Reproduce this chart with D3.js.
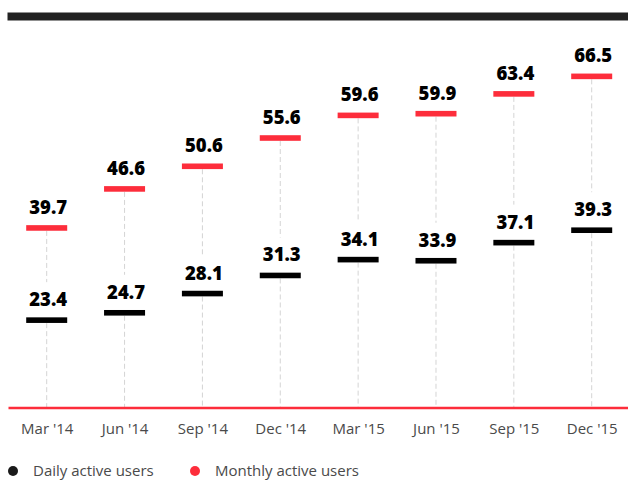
<!DOCTYPE html>
<html>
<head>
<meta charset="utf-8">
<script src="https://cdn.jsdelivr.net/npm/d3@7"></script>
<style>
  body { margin: 0; background: #fff; }
  svg { display: block; font-family: "Open Sans", sans-serif; }
</style>
</head>
<body>
<svg id="chart" width="628" height="480"></svg>
<script>
// quarters and user counts (millions)
const quarters = ["Mar '14", "Jun '14", "Sep '14", "Dec '14", "Mar '15", "Jun '15", "Sep '15", "Dec '15"];
const daily = [23.4, 24.7, 28.1, 31.3, 34.1, 33.9, 37.1, 39.3];
const monthly = [39.7, 46.6, 50.6, 55.6, 59.6, 59.9, 63.4, 66.5];
const seriesNames = ['Daily active users', 'Monthly active users'];

const RED = '#fd2d3b';
const width = 628, height = 480;
const baseY = 408;

const svg = d3.select('#chart');

const x = d3.scalePoint().domain(quarters).range([46.7, 591.7]);
const y = d3.scaleLinear().domain([0, 80]).range([452.5, 0]);

const data = quarters.map((q, i) => ({ q, d: daily[i], m: monthly[i] }));

// top dark bar
svg.append('rect')
  .attr('x', 7.5).attr('y', 12.5)
  .attr('width', width - 7.5).attr('height', 8)
  .attr('fill', '#222');

// dashed guide lines, broken around the labels
const guides = svg.append('g')
  .attr('stroke', '#d4d4d4')
  .attr('stroke-width', 1)
  .attr('stroke-dasharray', '5 3');

guides.selectAll('.upper')
  .data(data).enter().append('line')
  .attr('x1', d => x(d.q)).attr('x2', d => x(d.q))
  .attr('y1', d => y(d.m) + 3)
  .attr('y2', d => y(d.d) - 38);

guides.selectAll('.lower')
  .data(data).enter().append('line')
  .attr('x1', d => x(d.q)).attr('x2', d => x(d.q))
  .attr('y1', d => y(d.d) + 3)
  .attr('y2', baseY);

// baseline
svg.append('line')
  .attr('x1', 8.5).attr('x2', width)
  .attr('y1', baseY).attr('y2', baseY)
  .attr('stroke', RED).attr('stroke-width', 2.3);

// markers
const mw = 41, mh = 5.6;
svg.selectAll('.mau')
  .data(data).enter().append('rect')
  .attr('x', d => x(d.q) - mw / 2)
  .attr('y', d => y(d.m) - mh / 2)
  .attr('width', mw).attr('height', mh)
  .attr('fill', RED);

svg.selectAll('.dau')
  .data(data).enter().append('rect')
  .attr('x', d => x(d.q) - mw / 2)
  .attr('y', d => y(d.d) - mh / 2)
  .attr('width', mw).attr('height', mh)
  .attr('fill', '#000');

// value labels
const lbl = svg.append('g')
  .attr('font-size', '18.5px').attr('font-weight', 800)
  .attr('fill', '#000').attr('text-anchor', 'middle');

lbl.selectAll('.ml')
  .data(data).enter().append('text')
  .attr('x', d => x(d.q) + 1.5)
  .attr('y', d => y(d.m) - 14)
  .text(d => d.m.toFixed(1));

lbl.selectAll('.dl')
  .data(data).enter().append('text')
  .attr('x', d => x(d.q) + 1.5)
  .attr('y', d => y(d.d) - 14)
  .text(d => d.d.toFixed(1));

// x axis labels
const xAxis = svg.append('g')
  .attr('transform', `translate(0,${baseY})`)
  .call(d3.axisBottom(x).tickSize(0).tickPadding(15));
xAxis.select('.domain').remove();
xAxis.selectAll('text')
  .attr('font-family', '"Open Sans", sans-serif')
  .attr('font-size', '15px')
  .attr('fill', '#4a4a4a');

// legend
const legend = svg.append('g').attr('transform', 'translate(0,471)');
const legendX = [13, 195];
const legendColors = ['#1a1a1a', RED];
const items = legend.selectAll('g')
  .data(seriesNames).enter().append('g')
  .attr('transform', (d, i) => `translate(${legendX[i]},0)`);
items.append('circle').attr('r', 5).attr('fill', (d, i) => legendColors[i]);
items.append('text')
  .attr('x', 20).attr('dy', '0.35em')
  .attr('font-size', '15px').attr('fill', '#4a4a4a')
  .text(d => d);
</script>
</body>
</html>
